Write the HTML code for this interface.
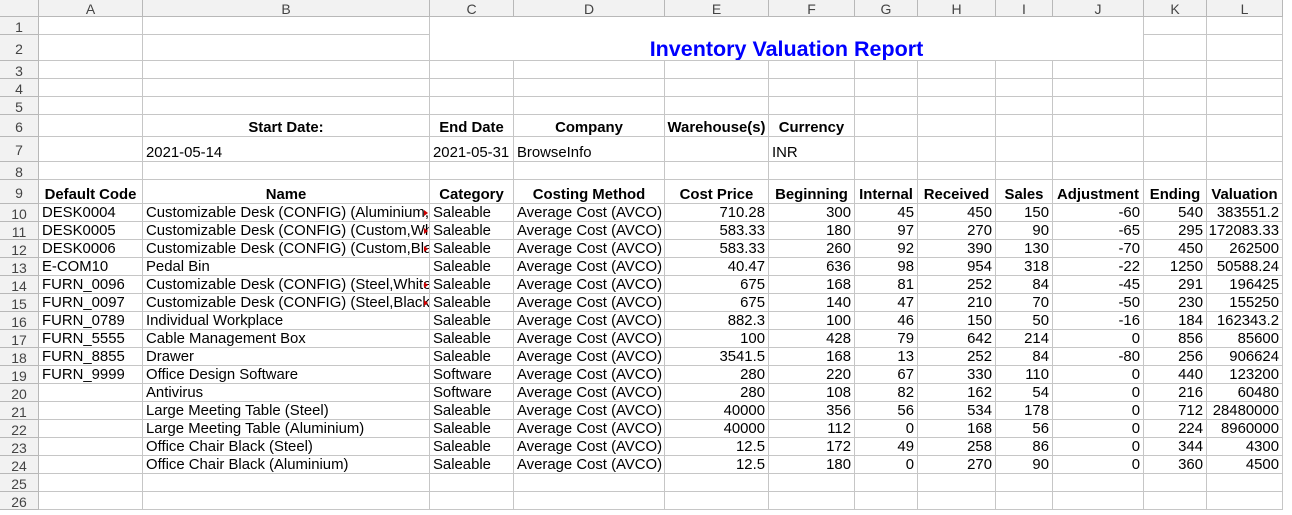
<!DOCTYPE html>
<html><head><meta charset="utf-8">
<style>
body{margin:0;width:1292px;height:515px;overflow:hidden;background:#fff;font-family:"Liberation Sans",Arial,sans-serif;}
#sheet{position:relative;width:1292px;height:515px;}
.c{position:absolute;box-sizing:border-box;border-right:1px solid #c6c6c6;border-bottom:1px solid #c6c6c6;font-size:14.9px;color:#000;white-space:nowrap;overflow:hidden;display:flex;align-items:flex-end;padding:0 3px 0 3px;line-height:16px;}
.h{background:#f2f2f2;color:#444;justify-content:center;align-items:center;font-size:14px;border-color:#b8b8b8;padding-top:2px;}
.r{justify-content:flex-end;}
.m{justify-content:center;}
.b{font-weight:bold;}
.clip::after{content:"";position:absolute;right:1px;bottom:5px;border-left:4px solid #c00;border-top:3px solid transparent;border-bottom:3px solid transparent;}
.title{justify-content:center;align-items:center;color:#0000ff;font-weight:bold;font-size:21.5px;padding-top:20px;}
</style></head>
<body>
<div id="sheet"></div>
<script>
const colLetters=["A","B","C","D","E","F","G","H","I","J","K","L"];
const colW=[104,287,84,151,104,86,63,78,57,91,63,76];
const rowH=[18,26,18,18,18,22,25,18,24,18,18,18,18,18,18,18,18,18,18,18,18,18,18,18,18,18];
const hdrW=39, hdrH=17;
const headers=["Default Code","Name","Category","Costing Method","Cost Price","Beginning","Internal","Received","Sales","Adjustment","Ending","Valuation"];
const codes=["DESK0004","DESK0005","DESK0006","E-COM10","FURN_0096","FURN_0097","FURN_0789","FURN_5555","FURN_8855","FURN_9999","","","","",""];
const names=["Customizable Desk (CONFIG) (Aluminium,Black)","Customizable Desk (CONFIG) (Custom,White)","Customizable Desk (CONFIG) (Custom,Black)","Pedal Bin","Customizable Desk (CONFIG) (Steel,White)","Customizable Desk (CONFIG) (Steel,Black)","Individual Workplace","Cable Management Box","Drawer","Office Design Software","Antivirus","Large Meeting Table (Steel)","Large Meeting Table (Aluminium)","Office Chair Black (Steel)","Office Chair Black (Aluminium)"];
const clipped=[true,true,true,false,true,true,false,false,false,false,false,false,false,false,false];
const categories=["Saleable","Saleable","Saleable","Saleable","Saleable","Saleable","Saleable","Saleable","Saleable","Software","Software","Saleable","Saleable","Saleable","Saleable"];
const costPrice=["710.28","583.33","583.33","40.47","675","675","882.3","100","3541.5","280","280","40000","40000","12.5","12.5"];
const beginning=[300,180,260,636,168,140,100,428,168,220,108,356,112,172,180];
const internal=[45,97,92,98,81,47,46,79,13,67,82,56,0,49,0];
const received=[450,270,390,954,252,210,150,642,252,330,162,534,168,258,270];
const sales=[150,90,130,318,84,70,50,214,84,110,54,178,56,86,90];
const adjustment=[-60,-65,-70,-22,-45,-50,-16,0,-80,0,0,0,0,0,0];
const ending=[540,295,450,1250,291,230,184,856,256,440,216,712,224,344,360];
const valuation=["383551.2","172083.33","262500","50588.24","196425","155250","162343.2","85600","906624","123200","60480","28480000","8960000","4300","4500"];

const sheet=document.getElementById('sheet');
const colX=[hdrW];for(let i=0;i<colW.length;i++)colX.push(colX[i]+colW[i]);
const rowY=[hdrH];for(let i=0;i<rowH.length;i++)rowY.push(rowY[i]+rowH[i]);
function cell(x,y,w,h,text,cls){const d=document.createElement('div');d.className='c '+(cls||'');d.style.left=x+'px';d.style.top=y+'px';d.style.width=w+'px';d.style.height=h+'px';d.textContent=text;sheet.appendChild(d);return d;}

let corner=cell(0,0,hdrW,hdrH,'','h');


for(let i=0;i<colLetters.length;i++){
  const d=cell(colX[i],0,colW[i],hdrH,colLetters[i],'h');
  
  
}
for(let r=0;r<rowH.length;r++){
  const d=cell(0,rowY[r],hdrW,rowH[r],String(r+1),'h');
  
  
}
const content={};
function put(r,c,t,cls){content[r+','+c]={t:t,cls:cls||''};}
put(6,1,'Start Date:','b m');put(6,2,'End Date','b m');put(6,3,'Company','b m');put(6,4,'Warehouse(s)','b m');put(6,5,'Currency','b m');
put(7,1,'2021-05-14');put(7,2,'2021-05-31');put(7,3,'BrowseInfo');put(7,5,'INR');
for(let c=0;c<headers.length;c++)put(9,c,headers[c],'b m');
for(let i=0;i<names.length;i++){
  const r=10+i;
  put(r,0,codes[i]);put(r,1,names[i],clipped[i]?'clip':'');put(r,2,categories[i]);put(r,3,'Average Cost (AVCO)');
  put(r,4,costPrice[i],'r');put(r,5,String(beginning[i]),'r');put(r,6,String(internal[i]),'r');put(r,7,String(received[i]),'r');
  put(r,8,String(sales[i]),'r');put(r,9,String(adjustment[i]),'r');put(r,10,String(ending[i]),'r');put(r,11,valuation[i],'r');
}
for(let r=1;r<=rowH.length;r++){
  for(let c=0;c<colW.length;c++){
    if((r===1||r===2)&&c>=2&&c<=9)continue;
    const k=content[r+','+c]||{t:'',cls:''};
    const d=cell(colX[c],rowY[r-1],colW[c],rowH[r-1],k.t,k.cls);
    
    
  }
}
const t=cell(colX[2],rowY[0],colX[10]-colX[2],rowH[0]+rowH[1],'Inventory Valuation Report','title');


</script>
</body></html>
